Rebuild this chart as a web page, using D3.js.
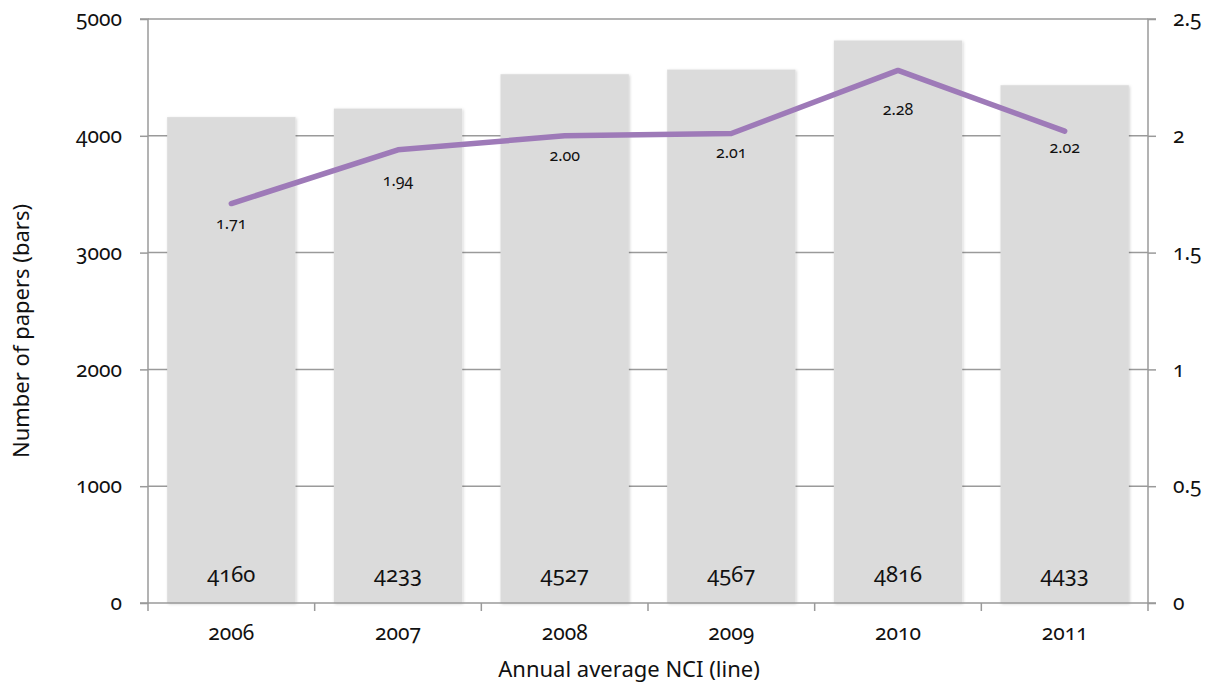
<!DOCTYPE html>
<html>
<head>
<meta charset="utf-8">
<script src="https://cdn.jsdelivr.net/npm/d3@7"></script>
<style>
  body { margin: 0; background: #fff; }
  svg text { font-family: "Noto Sans", sans-serif; font-feature-settings: "onum"; fill: #111; }
</style>
</head>
<body>
<div id="chart"></div>
<script>
// Data
const years = ['2006', '2007', '2008', '2009', '2010', '2011']
const papers = [4160, 4233, 4527, 4567, 4816, 4433]
const nci = [1.71, 1.94, 2.00, 2.01, 2.28, 2.02]
const nciLabels = ['1.71', '1.94', '2.00', '2.01', '2.28', '2.02']
const leftTicks = [0, 1000, 2000, 3000, 4000, 5000]
const rightTicks = [0, 0.5, 1, 1.5, 2, 2.5]
// label nudges below the line points (px)
const labelDy = [20, 31, 20, 20, 40, 17]

function draw() {
  let dimensions = {
    width: 1206,
    height: 684,
    margin: { top: 19, right: 58, bottom: 81, left: 148 }
  }
  dimensions.ctrWidth = dimensions.width - dimensions.margin.left - dimensions.margin.right
  dimensions.ctrHeight = dimensions.height - dimensions.margin.top - dimensions.margin.bottom

  const svg = d3.select('#chart')
    .append('svg')
    .attr('width', dimensions.width)
    .attr('height', dimensions.height)

  const defs = svg.append('defs')
  const f = defs.append('filter').attr('id', 'shadow')
    .attr('x', '-10%').attr('y', '-10%').attr('width', '120%').attr('height', '120%')
  f.append('feDropShadow').attr('dx', 1).attr('dy', 1).attr('stdDeviation', 1.5)
    .attr('flood-color', '#000').attr('flood-opacity', 0.18)

  const ctr = svg.append('g')
    .attr('transform', `translate(${dimensions.margin.left}, ${dimensions.margin.top})`)

  // Scales
  const xScale = d3.scaleBand()
    .domain(years)
    .range([0, dimensions.ctrWidth])
    .paddingInner(0.23)
    .paddingOuter(0.115)
  const yScale = d3.scaleLinear()
    .domain([0, 5000])
    .range([dimensions.ctrHeight, 0])
  const y2Scale = d3.scaleLinear()
    .domain([0, 2.5])
    .range([dimensions.ctrHeight, 0])

  // gridlines
  ctr.append('g')
    .selectAll('line')
    .data(leftTicks.slice(1))
    .join('line')
    .attr('x1', 0)
    .attr('x2', dimensions.ctrWidth)
    .attr('y1', d => yScale(d))
    .attr('y2', d => yScale(d))
    .attr('stroke', '#9a9a9a')
    .attr('stroke-width', 1.5)

  // bars
  ctr.append('g')
    .selectAll('rect')
    .data(papers)
    .join('rect')
    .attr('x', (d, i) => xScale(years[i]))
    .attr('y', d => yScale(d))
    .attr('width', xScale.bandwidth())
    .attr('height', d => dimensions.ctrHeight - yScale(d))
    .attr('fill', '#dbdbdb')
    .attr('filter', 'url(#shadow)')

  // bar labels
  ctr.append('g')
    .selectAll('text')
    .data(papers)
    .join('text')
    .attr('x', (d, i) => xScale(years[i]) + xScale.bandwidth() / 2)
    .attr('y', dimensions.ctrHeight - 21)
    .attr('text-anchor', 'middle')
    .style('font-size', '22px')
    .text(d => d)

  // axes
  const leftAxis = d3.axisLeft(yScale).tickValues(leftTicks).tickSize(8).tickPadding(18)
    .tickFormat(d => d)
  const gl = ctr.append('g').call(leftAxis)
  const rightAxis = d3.axisRight(y2Scale).tickValues(rightTicks).tickSize(8).tickPadding(17)
    .tickFormat(d => d)
  const gr = ctr.append('g').attr('transform', `translate(${dimensions.ctrWidth}, 0)`).call(rightAxis)
  const bottomAxis = d3.axisBottom(xScale).tickSize(0).tickPadding(22)
  const gb = ctr.append('g').attr('transform', `translate(0, ${dimensions.ctrHeight})`).call(bottomAxis)

  ;[gl, gr, gb].forEach(g => {
    g.attr('font-family', null).attr('font-size', null)
    g.selectAll('path, line').attr('stroke', '#9a9a9a').attr('stroke-width', 1.5)
    g.selectAll('text').style('font-size', '21px').attr('fill', '#111')
      .style('font-feature-settings', '"onum"')
  })
  gl.select('.domain').attr('d', `M-8,${dimensions.ctrHeight}H0V0H-8`)
  gr.select('.domain').attr('d', `M8,${dimensions.ctrHeight}H0V0H8`)
  gb.select('.domain').attr('d', `M0,0H${dimensions.ctrWidth}`)

  // category boundary ticks
  gb.append('g')
    .selectAll('line')
    .data(d3.range(years.length + 1))
    .join('line')
    .attr('x1', i => i * xScale.step())
    .attr('x2', i => i * xScale.step())
    .attr('y1', 0)
    .attr('y2', 8)
    .attr('stroke', '#9a9a9a')
    .attr('stroke-width', 1.5)

  // line
  const lineGenerator = d3.line()
    .x((d, i) => xScale(years[i]) + xScale.bandwidth() / 2)
    .y(d => y2Scale(d))

  ctr.append('path')
    .datum(nci)
    .attr('d', lineGenerator)
    .attr('fill', 'none')
    .attr('stroke', '#9e7ab8')
    .attr('stroke-width', 5.5)
    .attr('stroke-linecap', 'round')
    .attr('stroke-linejoin', 'round')

  ctr.append('g')
    .selectAll('text')
    .data(nci)
    .join('text')
    .attr('x', (d, i) => xScale(years[i]) + xScale.bandwidth() / 2)
    .attr('y', (d, i) => y2Scale(d) + labelDy[i] + 5)
    .attr('text-anchor', 'middle')
    .style('font-size', '16px')
    .text((d, i) => nciLabels[i])

  // titles
  svg.append('text')
    .attr('x', dimensions.margin.left + dimensions.ctrWidth / 2 - 19)
    .attr('y', 677)
    .attr('text-anchor', 'middle')
    .style('font-size', '22px')
    .style('font-feature-settings', 'normal')
    .text('Annual average NCI (line)')

  svg.append('text')
    .attr('transform', `translate(29, ${dimensions.margin.top + dimensions.ctrHeight / 2 + 20}) rotate(-90)`)
    .attr('text-anchor', 'middle')
    .style('font-size', '22px')
    .style('font-feature-settings', 'normal')
    .text('Number of papers (bars)')
}

draw()
</script>
</body>
</html>
